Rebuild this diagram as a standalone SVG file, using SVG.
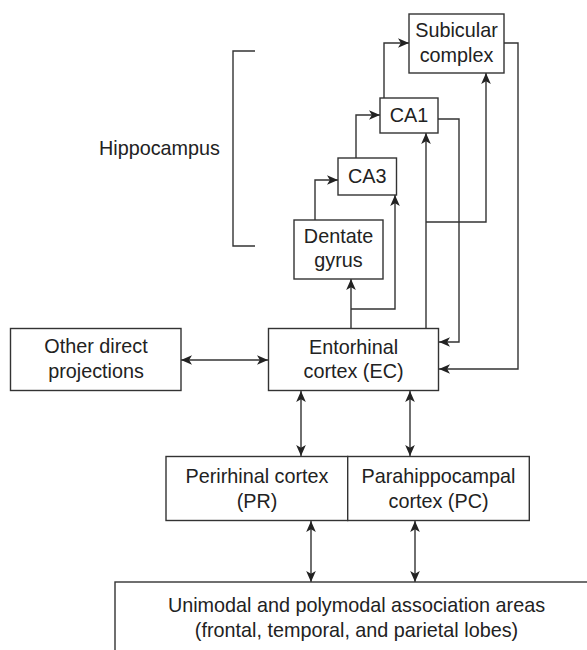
<svg xmlns="http://www.w3.org/2000/svg" width="587" height="650" viewBox="0 0 587 650">
<style>
.box{fill:#fff;stroke:#333;stroke-width:1.4}
.ln{fill:none;stroke:#333;stroke-width:1.4}
.a{marker-end:url(#ah)}
.b{marker-start:url(#ah);marker-end:url(#ah)}
text{font-family:"Liberation Sans",Arial,Helvetica,sans-serif;font-size:19.8px;fill:#222;text-anchor:middle}
</style>
<defs>
<marker id="ah" viewBox="0 0 10 10" refX="10" refY="5" markerWidth="11" markerHeight="11" markerUnits="userSpaceOnUse" orient="auto-start-reverse">
<path d="M0,0.6 L10,5 L0,9.4 L2.6,5 z" fill="#222"/>
</marker>
</defs>
<rect width="587" height="650" fill="#fff"/>
<g id="connectors">
<path class="ln" d="M255,51 H233 V246 H255"/>
<path class="ln a" d="M315,220 V180 H338"/>
<path class="ln a" d="M356,158 V115 H380"/>
<path class="ln a" d="M384,98 V43 H409"/>
<path class="ln a" d="M438,119 H459 V342 H439"/>
<path class="ln a" d="M504,43 H518 V369 H439"/>
<path class="ln a" d="M351,328 V279"/>
<path class="ln a" d="M351,309 H395 V195"/>
<path class="ln a" d="M426,328 V133"/>
<path class="ln a" d="M426,222 H486 V73"/>
<path class="ln b" d="M181,360 H268"/>
<path class="ln b" d="M301,391 V456"/>
<path class="ln b" d="M410,391 V456"/>
<path class="ln b" d="M311,521 V582"/>
<path class="ln b" d="M415,521 V582"/>
</g>
<g id="hippocampus-label"><text x="159.5" y="155">Hippocampus</text></g>
<g id="subicular"><rect class="box" x="409" y="14" width="95" height="59"/><text x="456.5" y="37">Subicular</text><text x="456.5" y="62">complex</text></g>
<g id="ca1"><rect class="box" x="380" y="98" width="58" height="35"/><text x="409" y="122">CA1</text></g>
<g id="ca3"><rect class="box" x="338" y="158" width="58.5" height="37"/><text x="367.3" y="183">CA3</text></g>
<g id="dentate"><rect class="box" x="294" y="220" width="89" height="59"/><text x="338.5" y="243">Dentate</text><text x="338.5" y="267">gyrus</text></g>
<g id="ec"><rect class="box" x="268.5" y="328.5" width="170" height="62"/><text x="353.5" y="354">Entorhinal</text><text x="353.5" y="378">cortex (EC)</text></g>
<g id="other"><rect class="box" x="10.5" y="328.5" width="170.5" height="62"/><text x="96" y="353">Other direct</text><text x="96" y="378">projections</text></g>
<g id="pr"><rect class="box" x="166" y="456.5" width="181.7" height="64"/><text x="257" y="483">Perirhinal cortex</text><text x="257" y="508">(PR)</text></g>
<g id="pc"><rect class="box" x="347.7" y="456.5" width="181.6" height="64"/><text x="438.5" y="483">Parahippocampal</text><text x="438.5" y="508">cortex (PC)</text></g>
<g id="association"><rect class="box" x="115" y="582" width="480" height="80"/><text x="356.5" y="612">Unimodal and polymodal association areas</text><text x="356.5" y="637">(frontal, temporal, and parietal lobes)</text></g>
</svg>
